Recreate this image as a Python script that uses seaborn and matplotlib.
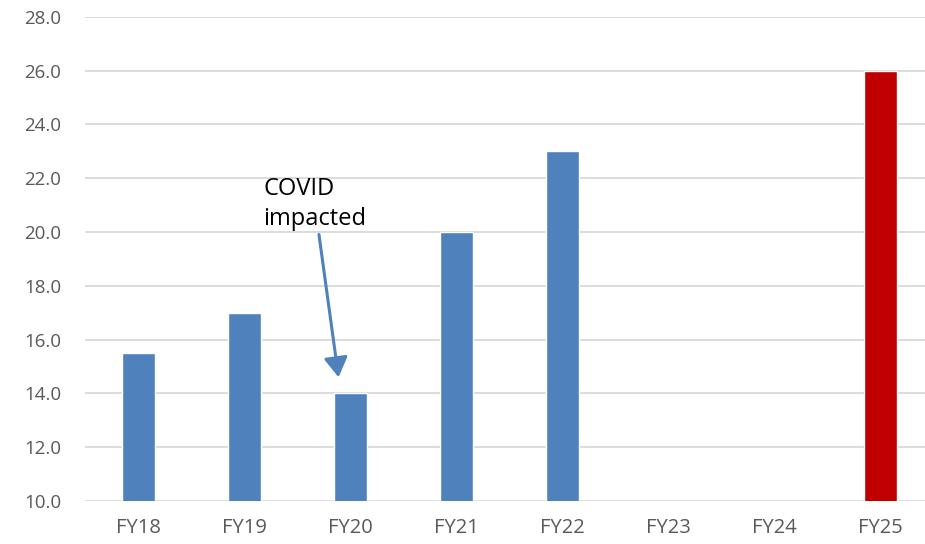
import numpy as np
import pandas as pd
import matplotlib
matplotlib.use("Agg")
import matplotlib.pyplot as plt
import seaborn as sns

years = ["FY18", "FY19", "FY20", "FY21", "FY22", "FY23", "FY24", "FY25"]
values = [15.5, 17.0, 14.0, 20.0, 23.0, np.nan, np.nan, 26.0]
bar_colors = ["#4F81BD", "#4F81BD", "#4F81BD", "#4F81BD", "#4F81BD",
              "#4F81BD", "#4F81BD", "#C00000"]
y_ticks = [10, 12, 14, 16, 18, 20, 22, 24, 26, 28]

sns.set_theme(style="white")
plt.rcParams["font.family"] = ["Open Sans", "DejaVu Sans"]

df = pd.DataFrame({"year": years, "value": values})

fig = plt.figure(figsize=(9.25, 5.44), dpi=100)
ax = fig.add_axes([0.092, 0.079, 0.908, 0.890])

for y in y_ticks:
    ax.axhline(y, color="#D9D9D9", lw=1.3, zorder=0)

sns.barplot(data=df, x="year", y="value", hue="year", order=years,
            hue_order=years, palette=bar_colors, width=0.31,
            legend=False, ax=ax, zorder=2, saturation=1)

ax.set_ylim(10, 28)
ax.set_xlim(-0.5, 7.42)
ax.set_yticks(y_ticks)
ax.set_yticklabels([f"{t:.1f}" for t in y_ticks])
ax.set_xlabel("")
ax.set_ylabel("")
for s in ax.spines.values():
    s.set_visible(False)
ax.tick_params(axis="both", length=0, colors="#595959")
ax.tick_params(axis="x", labelsize=14.5, pad=12)
ax.tick_params(axis="y", labelsize=13.5, pad=17)

ann = ax.annotate("COVID\nimpacted", xy=(1.89, 14.6), xytext=(1.18, 22.05),
                  fontsize=17, color="black", ha="left", va="top",
                  linespacing=1.35,
                  arrowprops=dict(arrowstyle="-|>,head_length=0.5,head_width=0.3",
                                  color="#4F81BD", lw=2.2,
                                  mutation_scale=24, shrinkA=0, shrinkB=0),
                  annotation_clip=False)
# start the arrow below the text rather than at its anchor
ann.arrow_patch.set_positions((1.59, 19.52), (1.89, 14.6))

fig.savefig("out.png", dpi=100)
